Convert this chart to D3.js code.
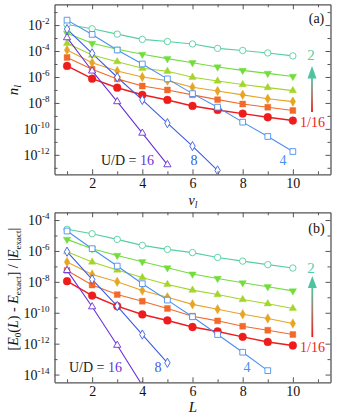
<!DOCTYPE html>
<html><head><meta charset="utf-8">
<script src="https://cdn.jsdelivr.net/npm/d3@7"></script>
<style>body{margin:0;background:#fff}svg{display:block}svg text{font-family:"Liberation Serif","DejaVu Serif",serif !important}</style>
</head><body>
<svg id="c" width="339" height="415" font-family="Liberation Serif, DejaVu Serif, serif"></svg>
<script>
const FONT = "Liberation Serif";
const xs = [1,2,3,4,5,6,7,8,9,10];
const seriesNames = ["1/16","1/8","1/4","1/2","1","2","4","8","16"];
const colors = ["#ee1c1c","#f2692a","#e6a523","#a4d52c","#72dd3c","#55cfa0","#4b8ff0","#3b5ce6","#6a30dc"];
const shapes = ["circle","square","diamond","triUp","triDown","circle","square","diamond","triUp"];
const filled = [true,true,true,true,true,false,false,false,false];

// panel (a): n_l vs v_l
const nA_1_16 = [7.1e-6,7.4e-7,1.5e-7,4.2e-8,1.7e-8,5.9e-9,2.9e-9,1.5e-9,7.9e-10,4.4e-10];
const nA_1_8  = [3.2e-5,3.9e-6,7.1e-7,2.0e-7,1.0e-7,4.2e-8,1.8e-8,8.3e-9,4.7e-9,2.6e-9];
const nA_1_4  = [1.2e-4,1.26e-5,2.9e-6,1.0e-6,5.2e-7,1.6e-7,8.3e-8,4.2e-8,2.1e-8,1.26e-8];
const nA_1_2  = [3.9e-4,4.9e-5,1.5e-5,4.7e-6,2.75e-6,9.5e-7,4.9e-7,2.6e-7,1.5e-7,8.9e-8];
const nA_1    = [2.3e-3,3.9e-4,1.35e-4,5.6e-5,2.6e-5,1.26e-5,5.9e-6,3.2e-6,1.9e-6,1.1e-6];
const nA_2    = [1.1e-2,5.2e-3,2.0e-3,7.9e-4,5.4e-4,3.5e-4,1.6e-4,1.1e-4,7.1e-5,4.2e-5];
const nA_4    = [2.4e-2,1.9e-3,1.2e-4,1.0e-5,7.1e-7,5.2e-8,4.7e-9,3.3e-10,2.6e-11,1.8e-12];
const nA_8    = [4.9e-3,6.6e-5,9.5e-7,1.7e-8,2.75e-10,4.7e-12,6.3e-14];
const nA_16   = [1.07e-3,2.9e-6,1.26e-8,4.7e-11,1.74e-13];

// panel (b): relative energy error vs L
const eB_1_16 = [1.1e-8,1.3e-9,2.7e-10,7.8e-11,3.2e-11,1.2e-11,6.2e-12,2.75e-12,1.3e-12,7.6e-13];
const eB_1_8  = [5.5e-8,6.2e-9,1.5e-9,5.6e-10,1.9e-10,6.0e-11,3.0e-11,1.35e-11,7.4e-12,3.9e-12];
const eB_1_4  = [1.9e-7,3.0e-8,1.0e-8,2.75e-9,1.0e-9,3.5e-10,1.7e-10,8.1e-11,4.3e-11,2.0e-11];
const eB_1_2  = [8.9e-7,1.9e-7,5.8e-8,1.9e-8,6.8e-9,2.9e-9,1.5e-9,7.2e-10,3.8e-10,1.9e-10];
const eB_1    = [5.6e-6,1.4e-6,5.1e-7,2.0e-7,8.1e-8,3.2e-8,1.66e-8,8.7e-9,4.8e-9,2.6e-9];
const eB_2    = [2.5e-5,1.3e-5,5.6e-6,2.3e-6,1.26e-6,7.8e-7,3.8e-7,2.2e-7,1.3e-7,7.8e-8];
const eB_4    = [1.95e-5,1.4e-6,1.05e-7,7.6e-9,6.6e-10,5.5e-11,3.9e-12,2.8e-13,1.8e-14];
const eB_8    = [8.9e-7,1.45e-8,2.7e-10,3.9e-12,5.8e-14];
const eB_16   = [5.5e-8,2.45e-10,7.9e-13,2.0e-15];

const xTicks = [1,2,3,4,5,6,7,8,9,10,11];
const xTickLabels = [2,4,6,8,10];
const yExpA = [-1,-2,-3,-4,-5,-6,-7,-8,-9,-10,-11,-12,-13];
const yExpB = [-4,-5,-6,-7,-8,-9,-10,-11,-12,-13,-14];

const svg = d3.select("#c");
const axisColor = "#555";

function symbolPath(shape, s) {
  const m = {circle:[d3.symbolCircle,s*s*Math.PI/4], square:[d3.symbolSquare,s*s*0.8],
    diamond:[d3.symbolDiamond,s*s*0.6], triUp:[d3.symbolTriangle,s*s*0.55], triDown:[d3.symbolTriangle,s*s*0.55]};
  return d3.symbol().type(m[shape][0]).size(m[shape][1])();
}

function panel(cfg) {
  const x = d3.scaleLinear().domain([0.5,11.5]).range([54.5,330.5]);
  const y = d3.scaleLog().domain(cfg.ydom).range([cfg.bottom, cfg.top]);
  const g = svg.append("g");
  const id = "clip"+cfg.name;
  svg.append("clipPath").attr("id",id).append("rect")
    .attr("x",54.5).attr("y",cfg.top).attr("width",276).attr("height",cfg.bottom-cfg.top);
  const plot = g.append("g").attr("clip-path",`url(#${id})`);
  const data = cfg.data;
  data.forEach((arr,i)=>{
    const pts = arr.map((v,j)=>[xs[j],v]);
    plot.append("path").datum(pts)
      .attr("d", d3.line().x(d=>x(d[0])).y(d=>y(d[1])))
      .attr("fill","none").attr("stroke",colors[i]).attr("stroke-width", i===0?1.5:1.1);
  });
  data.forEach((arr,i)=>{
    const sz = i===0 ? 7.8 : (filled[i] ? 6.6 : 6.4);
    plot.selectAll(null).data(arr.map((v,j)=>[xs[j],v])).enter().append("path")
      .attr("d", symbolPath(shapes[i], sz))
      .attr("transform", d=>`translate(${x(d[0])},${y(d[1])})` + (shapes[i]==="triDown"?" rotate(180)":""))
      .attr("fill", filled[i]?colors[i]:"#fff")
      .attr("stroke", colors[i]).attr("stroke-width", filled[i]?0.4:0.9);
  });
  const expTicks = cfg.exps.map(e=>Math.pow(10,e));
  const major = e => Math.abs(e)%2===0;
  const yl = d3.axisLeft(y).tickValues(expTicks).tickSize(0).tickFormat("");
  const yr = d3.axisRight(y).tickValues(expTicks).tickSize(0).tickFormat("");
  const xb = d3.axisBottom(x).tickValues(xTicks).tickSize(0).tickFormat("");
  const xt = d3.axisTop(x).tickValues(xTicks).tickSize(0).tickFormat("");
  const gl = g.append("g").attr("transform","translate(54.5,0)").call(yl);
  const gr = g.append("g").attr("transform","translate(330.5,0)").call(yr);
  const gb = g.append("g").attr("transform",`translate(0,${cfg.bottom})`).call(xb);
  const gt = g.append("g").attr("transform",`translate(0,${cfg.top})`).call(xt);
  [gl,gr,gb,gt].forEach(a=>{a.attr("font-family",FONT); a.select(".domain").attr("stroke",axisColor).attr("stroke-width",1.3);});
  gl.selectAll(".tick line").attr("x2",(d)=>major(Math.round(Math.log10(d)))?5:3).attr("stroke",axisColor);
  gr.selectAll(".tick line").attr("x2",(d)=>major(Math.round(Math.log10(d)))?-5:-3).attr("stroke",axisColor);
  gb.selectAll(".tick line").attr("y2",d=>d%2===0?-5:-3).attr("stroke",axisColor);
  gt.selectAll(".tick line").attr("y2",d=>d%2===0?5:3).attr("stroke",axisColor);
  gl.selectAll(".tick").each(function(d){
    const e = Math.round(Math.log10(d));
    if(!major(e)) return;
    const t = d3.select(this).append("text").attr("x",-5).attr("y",4.5).attr("font-family",FONT)
      .attr("text-anchor","end").attr("fill","#111").attr("font-size",14);
    t.append("tspan").text("10");
    t.append("tspan").attr("font-size",9).attr("dy",-6).text("-"+Math.abs(e));
  });
  gb.selectAll(".tick").each(function(d){
    if(xTickLabels.indexOf(d)<0) return;
    d3.select(this).append("text").attr("y",14.2).attr("text-anchor","middle").attr("font-family",FONT)
      .attr("fill","#111").attr("font-size",14).text(d);
  });
  return {x,y,g};
}

panel({name:"a", ydom:[Math.pow(10,-13.5),Math.pow(10,-0.4)], top:4.3, bottom:174.3, exps:yExpA,
  data:[nA_1_16,nA_1_8,nA_1_4,nA_1_2,nA_1,nA_2,nA_4,nA_8,nA_16]});
panel({name:"b", ydom:[Math.pow(10,-14.5),Math.pow(10,-3.5)], top:212.3, bottom:382.3, exps:yExpB,
  data:[eB_1_16,eB_1_8,eB_1_4,eB_1_2,eB_1,eB_2,eB_4,eB_8,eB_16]});

const defs = svg.append("defs");
const grad = defs.append("linearGradient").attr("id","ag").attr("x1",0).attr("y1",1).attr("x2",0).attr("y2",0);
grad.append("stop").attr("offset","0%").attr("stop-color","#f01818");
grad.append("stop").attr("offset","55%").attr("stop-color","#a08070");
grad.append("stop").attr("offset","100%").attr("stop-color","#50c8a0");

function annotate(cfg) {
  const t = (x,y,str,col,anchor,fs)=>svg.append("text").attr("x",x).attr("y",y).attr("fill",col).attr("font-family",FONT)
    .attr("text-anchor",anchor||"start").attr("font-size",fs||14).text(str);
  t(316.5, cfg.lab[1], cfg.label, "#111", "middle", 14);
  t(311, cfg.two, "2", colors[5], "middle", 15);
  t(300, cfg.one16, "1/16", colors[0], "start", 14);
  const ud = svg.append("text").attr("x",cfg.ud[0]).attr("y",cfg.ud[1]).attr("font-size",14).attr("fill","#222").attr("font-family",FONT);
  ud.append("tspan").text("U/D = ");
  ud.append("tspan").attr("fill",colors[8]).text("16");
  t(cfg.eight[0], cfg.eight[1], "8", colors[7], "middle", 14);
  t(cfg.four[0], cfg.four[1], "4", colors[6], "middle", 14);
  svg.append("rect").attr("x",cfg.ax-0.9).attr("y",cfg.headBase-1).attr("width",1.8)
    .attr("height",cfg.shaftBottom-cfg.headBase+1).attr("fill","url(#ag)");
  svg.append("path").attr("d",`M${cfg.ax},${cfg.tip} L${cfg.ax+4.5},${cfg.headBase} L${cfg.ax-4.5},${cfg.headBase} Z`)
    .attr("fill","#4ec3a0");
}
annotate({label:"(a)", lab:[316.5,22.5], two:60, one16:127, ud:[101,165], eight:[194,165], four:[283,165],
  ax:312, tip:66, headBase:78.5, shaftBottom:112});
annotate({label:"(b)", lab:[316.5,233], two:273, one16:352, ud:[69,372], eight:[158,372], four:[247,372],
  ax:312.3, tip:276, headBase:288, shaftBottom:337});

const xl1 = svg.append("text").attr("x",193).attr("y",204.5).attr("text-anchor","middle").attr("font-size",14).attr("font-style","italic").attr("fill","#111").attr("font-family",FONT);
xl1.append("tspan").text("v");
xl1.append("tspan").attr("font-size",9.5).attr("dy",3).text("l");
svg.append("text").attr("x",193).attr("y",412).attr("text-anchor","middle").attr("font-size",15).attr("font-style","italic").attr("fill","#111").attr("font-family",FONT).text("L");
const yl1 = svg.append("text").attr("transform","translate(18,90) rotate(-90)").attr("text-anchor","middle").attr("font-size",15).attr("font-style","italic").attr("fill","#111").attr("font-family",FONT);
yl1.append("tspan").text("n");
yl1.append("tspan").attr("font-size",10).attr("dy",3).text("l");
const yl2 = svg.append("text").attr("transform","translate(18,289) rotate(-90)").attr("text-anchor","middle").attr("font-size",14).attr("fill","#111").attr("font-family",FONT);
yl2.append("tspan").text("[");
yl2.append("tspan").attr("font-style","italic").text("E");
yl2.append("tspan").attr("font-size",9).attr("dy",3).text("0");
yl2.append("tspan").attr("dy",-3).text("(");
yl2.append("tspan").attr("font-style","italic").text("L");
yl2.append("tspan").text(") - ");
yl2.append("tspan").attr("font-style","italic").text("E");
yl2.append("tspan").attr("font-size",9).attr("dy",3).text("exact");
yl2.append("tspan").attr("dy",-3).text("] / |");
yl2.append("tspan").attr("font-style","italic").text("E");
yl2.append("tspan").attr("font-size",9).attr("dy",3).text("exact");
yl2.append("tspan").attr("dy",-3).text("|");
</script>
</body></html>
